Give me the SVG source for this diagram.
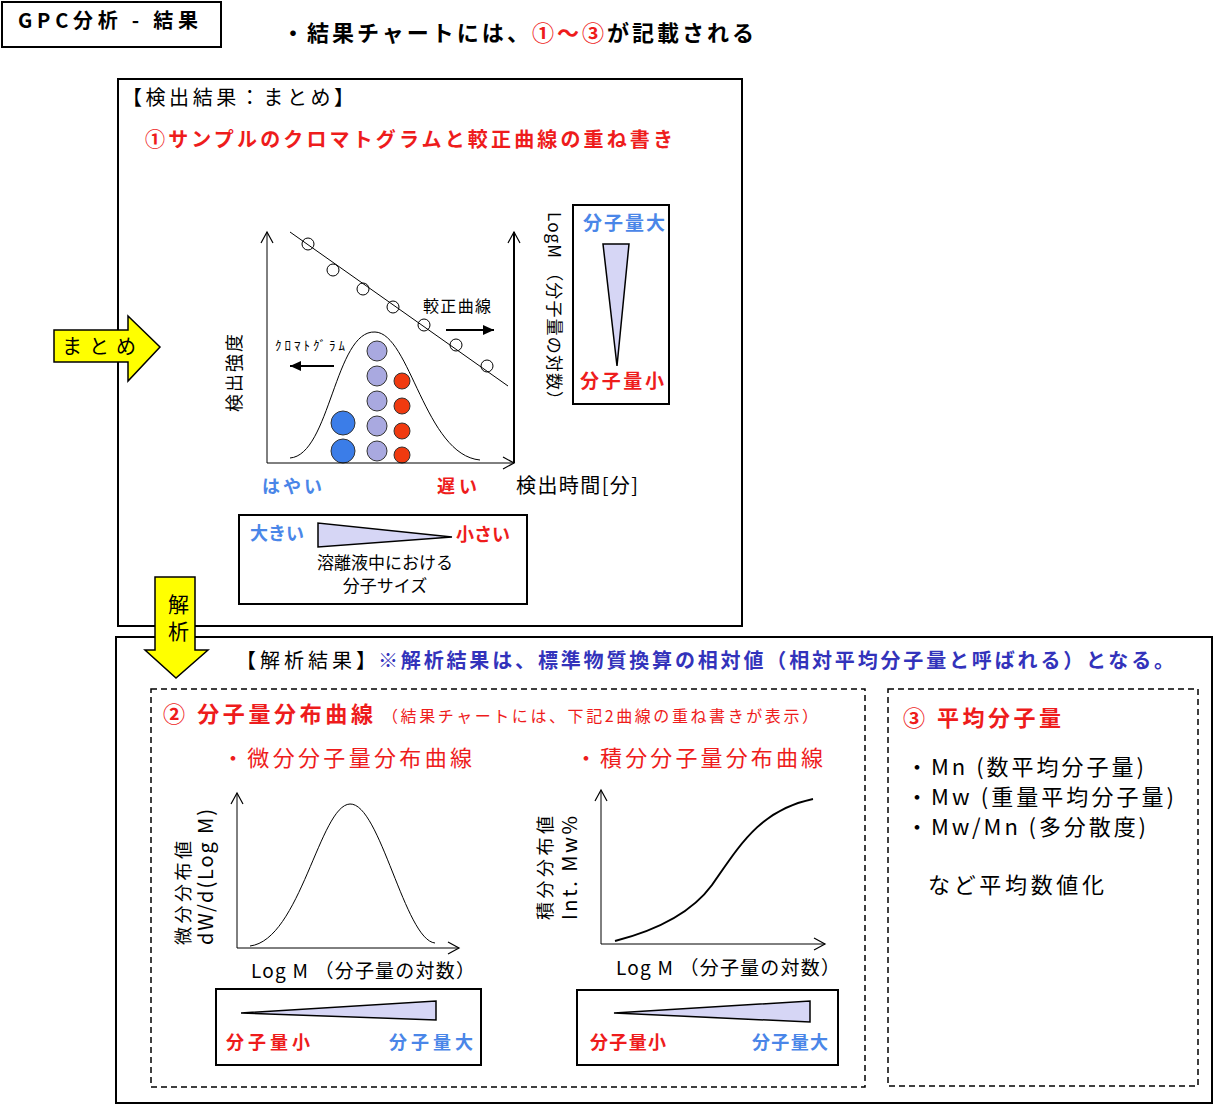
<svg xmlns="http://www.w3.org/2000/svg" width="1224" height="1105" viewBox="0 0 1224 1105">
<style>
text{font-family:"Noto Sans CJK JP","Liberation Sans",sans-serif;fill:#000}
.b{font-weight:bold}.r{fill:#ee1c1c}.bl{fill:#4a86e8}.pu{fill:#3333bb}
.ln{fill:none;stroke:#000;stroke-width:1}
.box{fill:#fff;stroke:#000;stroke-width:2}
.dash{fill:none;stroke:#000;stroke-width:1.5;stroke-dasharray:6,4}
.tri{fill:#d6d6f5;stroke:#000;stroke-width:1.5}
</style>
<defs>
<marker id="op" markerWidth="14" markerHeight="14" refX="12" refY="7" orient="auto" markerUnits="userSpaceOnUse"><path d="M1,1 L12,7 L1,13" fill="none" stroke="#000" stroke-width="1.2"/></marker>
<marker id="fl" markerWidth="12" markerHeight="12" refX="11" refY="6" orient="auto" markerUnits="userSpaceOnUse"><path d="M0,1 L11,6 L0,11 Z" fill="#000"/></marker>
</defs>
<g id="title"><rect x="2" y="2" width="219" height="45" class="box"/><text x="18" y="28" font-size="20" class="b" textLength="180">GPC分析 - 結果</text></g>
<text x="282" y="41" font-size="22" class="b" textLength="472">・結果チャートには、<tspan class="r">①～③</tspan>が記載される</text>
<g id="top">
<rect x="118" y="79" width="624" height="547" class="box"/>
<text x="122" y="105" font-size="20" textLength="232">【検出結果：まとめ】</text>
<text x="145" y="147" font-size="20" class="b r" textLength="528">①サンプルのクロマトグラムと較正曲線の重ね書き</text>
</g>
<g id="bottom"><rect x="116" y="637" width="1096" height="466" class="box"/>
<text x="236" y="668" font-size="20" textLength="140">【解析結果】</text>
<text x="378" y="668" font-size="20" class="b pu" textLength="796">※解析結果は、標準物質換算の相対値（相対平均分子量と呼ばれる）となる。</text>
<rect x="151" y="689" width="714" height="398" class="dash"/>
<rect x="888" y="689" width="310" height="397" class="dash"/></g>
<g id="chart1">
<g fill="#fff" stroke="#000"><circle cx="308" cy="244" r="6"/><circle cx="333" cy="270" r="6"/><circle cx="363" cy="289" r="6"/><circle cx="393" cy="307" r="6"/><circle cx="424" cy="325" r="6"/><circle cx="456" cy="345" r="6"/><circle cx="487" cy="366" r="6"/></g>
<text x="423" y="312" font-size="16" textLength="68">較正曲線</text>
<text x="275" y="350" font-size="13" textLength="70">ｸﾛﾏﾄｸﾞﾗﾑ</text>
<path d="M290,458 C330,455 335,330 375,332 C410,333 425,455 480,460" class="ln"/>
<g stroke="#333" stroke-width="1"><circle cx="343" cy="423" r="12" fill="#3b7de8"/><circle cx="343" cy="451" r="12" fill="#3b7de8"/>
<g fill="#a9a9e0"><circle cx="377" cy="351" r="10"/><circle cx="377" cy="376" r="10"/><circle cx="377" cy="401" r="10"/><circle cx="377" cy="426" r="10"/><circle cx="377" cy="451" r="10"/></g>
<g fill="#f03a10"><circle cx="402" cy="381" r="8"/><circle cx="402" cy="406" r="8"/><circle cx="402" cy="431" r="8"/><circle cx="402" cy="455" r="8"/></g></g>
<text transform="translate(241,412) rotate(-90)" font-size="18" textLength="78">検出強度</text>
<text x="262" y="493" font-size="18" class="b bl" textLength="60">はやい</text>
<text x="437" y="493" font-size="18" class="b r" textLength="40">遅い</text>
<text x="516" y="493" font-size="20" textLength="122">検出時間[分]</text>
<text transform="translate(548,212) rotate(90)" font-size="17" textLength="196">LogM （分子量の対数）</text>
</g>
<g id="mwbox1"><rect x="573" y="205" width="96" height="199" class="box"/>
<text x="583" y="230" font-size="19" class="b bl" textLength="82">分子量大</text>
<path d="M603,244 L629,244 L617,366 Z" class="tri"/>
<text x="580" y="388" font-size="19" class="b r" textLength="84">分子量小</text></g>
<g id="sizebox"><rect x="239" y="515" width="288" height="89" class="box"/>
<text x="250" y="540" font-size="18" class="b bl">大きい</text>
<path d="M318,523 L318,547 L452,537 Z" class="tri"/>
<text x="456" y="541" font-size="18" class="b r">小さい</text>
<text x="385" y="569" font-size="17" text-anchor="middle">溶離液中における</text>
<text x="385" y="592" font-size="17" text-anchor="middle">分子サイズ</text></g>
<g id="matome"><path d="M54,330 H128 V316 L160,347 L128,381 V362 H54 Z" fill="#ffff00" stroke="#000" stroke-width="1.5"/>
<text x="62" y="354" font-size="20" textLength="74">まとめ</text></g>
<g id="kaiseki"><path d="M155,577 H195 V650 H208 L176,678 L145,650 H155 Z" fill="#ffff00" stroke="#000" stroke-width="1.5"/>
<text x="168" y="612" font-size="21">解</text><text x="168" y="639" font-size="21">析</text></g>
<g id="dist">
<text x="163" y="722" font-size="22" class="b r" textLength="210">② 分子量分布曲線</text>
<text x="382" y="722" font-size="16" class="r" textLength="436">（結果チャートには、下記2曲線の重ね書きが表示）</text>
<text x="222" y="766" font-size="22" class="r" textLength="250">・微分分子量分布曲線</text>
<text x="575" y="766" font-size="22" class="r" textLength="248">・積分分子量分布曲線</text>
<path d="M250,946 C300,940 320,805 350,804 C380,803 405,940 435,943" class="ln"/>
<text transform="translate(190,945) rotate(-90)" font-size="18" textLength="104">微分分布値</text>
<text transform="translate(213,945) rotate(-90)" font-size="20" textLength="136">dW/d(Log M)</text>
<text x="251" y="978" font-size="19" textLength="224">Log M （分子量の対数）</text>
<path d="M615,941 C650,932 690,915 712,885 C740,845 760,810 813,799" fill="none" stroke="#000" stroke-width="2"/>
<text transform="translate(552,920) rotate(-90)" font-size="18" textLength="104">積分分布値</text>
<text transform="translate(577,920) rotate(-90)" font-size="20" textLength="104">Int. Mw%</text>
<text x="616" y="975" font-size="19" textLength="224">Log M （分子量の対数）</text>
</g>
<g id="mwbox2"><rect x="216" y="989" width="265" height="76" class="box"/>
<path d="M241,1013 L436,1001 L436,1020 Z" class="tri"/>
<text x="226" y="1049" font-size="18" class="b r" textLength="84">分子量小</text><text x="389" y="1049" font-size="18" class="b bl" textLength="84">分子量大</text></g>
<g id="mwbox3"><rect x="577" y="990" width="261" height="75" class="box"/>
<path d="M614,1013 L810,1001 L810,1022 Z" class="tri"/>
<text x="590" y="1049" font-size="18" class="b r" textLength="76">分子量小</text><text x="752" y="1049" font-size="18" class="b bl" textLength="76">分子量大</text></g>
<g id="avg">
<text x="903" y="726" font-size="22" class="b r" textLength="158">③ 平均分子量</text>
<text x="906" y="775" font-size="22" textLength="238">・Mn (数平均分子量)</text>
<text x="906" y="805" font-size="22" textLength="268">・Mw (重量平均分子量)</text>
<text x="906" y="835" font-size="22" textLength="240">・Mw/Mn (多分散度)</text>
<text x="928" y="893" font-size="22" textLength="176">など平均数値化</text></g>
<g id="connectors">
<path d="M267,463 V232" class="ln" marker-end="url(#op)"/>
<path d="M267,463 H514" class="ln" marker-end="url(#op)"/>
<path d="M514,463 V232" fill="none" stroke="#000" stroke-width="2" marker-end="url(#op)"/>
<path d="M290,232 L508,386" class="ln"/>
<path d="M446,330 H494" stroke="#000" stroke-width="2" marker-end="url(#fl)"/>
<path d="M334,366 H290" stroke="#000" stroke-width="2" marker-end="url(#fl)"/>
<path d="M237,948 V793" class="ln" marker-end="url(#op)"/>
<path d="M237,948 H459" class="ln" marker-end="url(#op)"/>
<path d="M601,944 V790" class="ln" marker-end="url(#op)"/>
<path d="M601,944 H825" class="ln" marker-end="url(#op)"/>
</g>
</svg>
